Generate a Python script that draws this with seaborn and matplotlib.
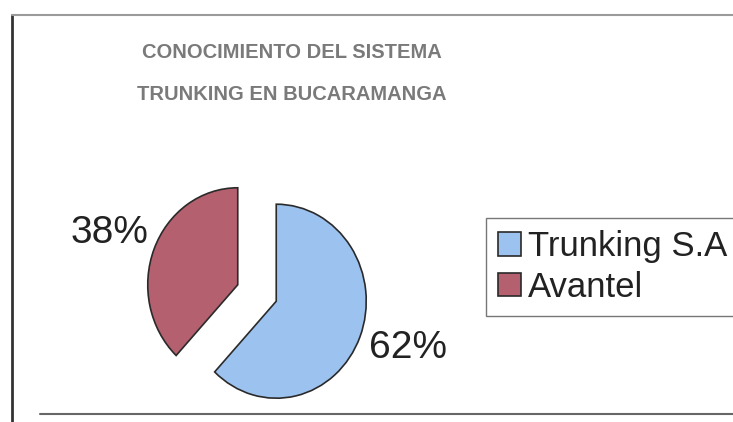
import matplotlib
matplotlib.use("Agg")
import matplotlib.pyplot as plt
import seaborn as sns
from matplotlib.lines import Line2D
from matplotlib import font_manager

# ---- data ----
categories = ["Trunking S.A", "Avantel"]
values = [62, 38]
title_lines = ["CONOCIMIENTO DEL SISTEMA", "TRUNKING EN BUCARAMANGA"]
slice_colors = ["#9cc3ef", "#b5606f"]

sns.set_theme(style="white")
plt.rcParams["font.family"] = ["Liberation Sans", "DejaVu Sans"]

names = {f.name for f in font_manager.fontManager.ttflist}
narrow = "Liberation Sans Narrow" if "Liberation Sans Narrow" in names else None

W, H = 733, 422
fig = plt.figure(figsize=(W / 100, H / 100), dpi=100)
fig.patch.set_facecolor("white")

# pie axes: 1 radius unit = 90 px horizontally, 97 px vertically
cx_px, cy_px = 257, 293
rx, ry = 90.0, 97.0
ax = fig.add_axes([0, 0, 1, 1])
wedges, _ = ax.pie(values, colors=slice_colors, startangle=90, counterclock=False,
                   explode=[0.23, 0.23], radius=1.0,
                   wedgeprops=dict(edgecolor="#2a2a2a", linewidth=1.2))
ax.set_aspect("auto")
ax.set_xlim(-cx_px / rx, (W - cx_px) / rx)
ax.set_ylim(-(H - cy_px) / ry, cy_px / ry)
ax.axis("off")

def px(x, y):
    return x / W, 1 - y / H

label_pos = [(408, 348), (109, 233)]
for v, (x, y) in zip(values, label_pos):
    fig.text(*px(x, y), f"{v}%", fontsize=28, color="#222222",
             ha="center", va="center")

# title
if narrow:
    tfam, tsize = [narrow, "Liberation Sans"], 17.5
else:
    tfam, tsize = ["Liberation Sans", "DejaVu Sans"], 14.5
for line, y in zip(title_lines, [52, 94]):
    fig.text(*px(292, y), line, fontsize=tsize, fontweight="bold",
             family=tfam, color="#7a7a7a", ha="center", va="center")

# legend
leg = fig.legend(wedges, categories, loc="upper left",
                 bbox_to_anchor=(486 / W, 1 - 218 / H), borderaxespad=0,
                 fontsize=25, frameon=True, fancybox=False,
                 handlelength=0.65, handleheight=0.65, handletextpad=0.2,
                 labelspacing=0.22, borderpad=0.35)
leg.get_frame().set_edgecolor("#555555")
leg.get_frame().set_linewidth(1.0)
for t in leg.get_texts():
    t.set_color("#222222")

# outer chart frame
fig.add_artist(Line2D([12 / W, 12 / W], [1 - 15 / H, 0], transform=fig.transFigure,
                      color="#333333", linewidth=2))
fig.add_artist(Line2D([12 / W, 1], [1 - 15 / H, 1 - 15 / H], transform=fig.transFigure,
                      color="#9a9a9a", linewidth=1.5))
fig.add_artist(Line2D([40 / W, 1], [1 - 414 / H, 1 - 414 / H], transform=fig.transFigure,
                      color="#666666", linewidth=1.5))

fig.savefig("out.png", dpi=100, facecolor="white")
